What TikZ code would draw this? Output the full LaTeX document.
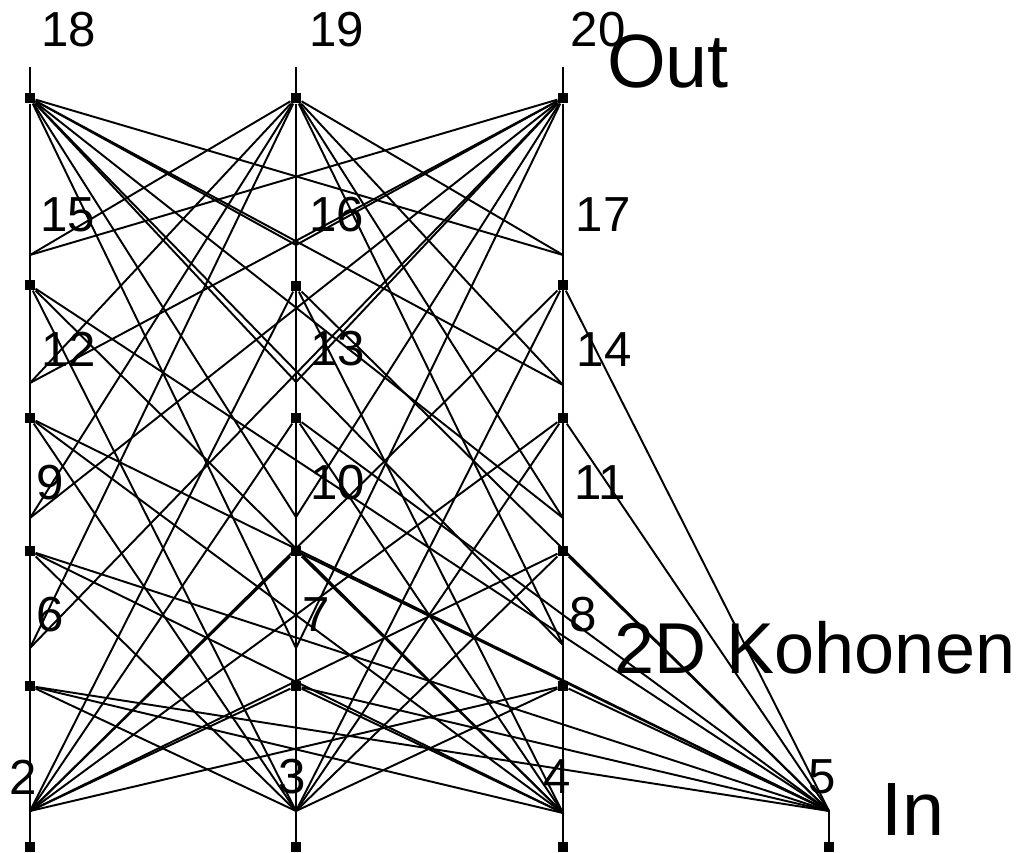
\documentclass[tikz,border=0pt]{standalone}
\usepackage{fontspec}
\setmainfont{Liberation Sans}

\begin{document}
\begin{tikzpicture}[x=0.02cm,y=-0.02cm,
  wire/.style={line width=1.1pt},
  unit/.style={rectangle,fill=black,inner sep=0pt,minimum size=0.21cm},
  num/.style={inner sep=0pt,font=\fontsize{28}{30}\selectfont},
  layer/.style={inner sep=0pt,font=\fontsize{43}{45}\selectfont}]

  \useasboundingbox (0,0) rectangle (1023,852);

  % neurons: name / x / top / square / label x / label y
  \foreach \n/\x/\t/\b/\lx/\ly in {
      18/30/67/98/69/30, 19/296/67/98/337/30, 20/563/67/98/598/30,
      15/30/255/285/68/215, 16/296/245/286/337/215, 17/563/255/285/603/215,
      12/30/383/418/69/349, 13/296/382/418/338/349, 14/563/385/418/604/350,
      9/30/518/551/50/483, 10/296/517/551/338/483, 11/563/518/551/600/483,
      6/30/648/686/50/615, 7/296/648/686/316/615, 8/563/645/686/583/615,
      2/30/811/847/23/777, 3/296/811/847/292/777, 4/563/813/847/557/777,
      5/829/811/847/822/777} {
    \coordinate (t\n) at (\x,\t);
    \node[unit] (s\n) at (\x,\b) {};
    \draw[line width=1.4pt] (t\n) -- (s\n.center);
    \node[num] (l\n) at (\lx,\ly) {\n};
  }

  % in -> kohonen -> out
  \foreach \k in {6,...,17} {
    \foreach \i in {2,...,5}
      \draw[wire] (t\i) -- (s\k);
    \foreach \o in {18,19,20}
      \draw[wire] (t\k) -- (s\o);
  }

  \node[layer] (out) at (668,61) {Out};
  \node[layer,font=\fontsize{41}{43}\selectfont] (kohonen) at (815,648) {2D Kohonen};
  \node[layer] (in) at (913,809) {In};

\end{tikzpicture}
\end{document}
